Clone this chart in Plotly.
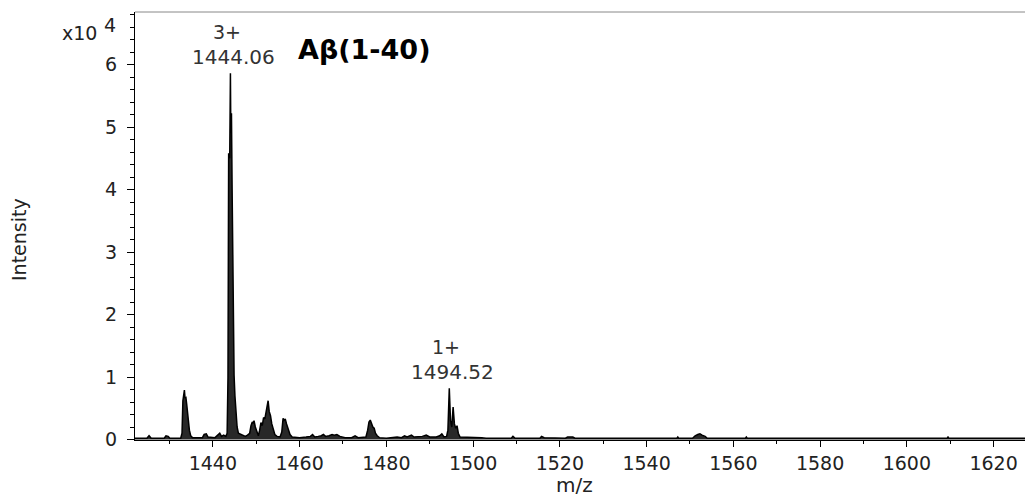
import plotly.graph_objects as go

# Profile spectrum of A-beta(1-40): m/z and intensity (x10^4 counts)
mz = [
    1422.0, 1424.8, 1425.3, 1425.8, 1428.8, 1429.2, 1429.7, 1430.1,
    1432.6, 1432.9, 1433.1, 1433.3, 1433.45, 1433.6, 1433.8, 1434.0,
    1434.3, 1434.6, 1434.9, 1435.3, 1437.6, 1438.0, 1438.5, 1438.9,
    1440.5, 1441.0, 1441.6, 1442.0, 1442.5, 1443.0, 1443.3, 1443.5,
    1443.65, 1443.9, 1444.06, 1444.15, 1444.3, 1444.45, 1444.65, 1444.9,
    1445.1, 1445.4, 1445.6, 1445.9, 1446.5, 1447.0, 1447.5, 1448.0,
    1448.5, 1448.8, 1449.1, 1449.3, 1449.5, 1449.8, 1450.2, 1450.5,
    1450.8, 1451.1, 1451.4, 1451.7, 1452.0, 1452.3, 1452.6, 1452.75,
    1453.0, 1453.3, 1453.6, 1453.9, 1454.3, 1454.8, 1455.5, 1455.9,
    1456.2, 1456.4, 1456.7, 1457.0, 1457.4, 1457.8, 1458.3, 1460.0,
    1461.5, 1462.5, 1463.0, 1463.5, 1464.3, 1465.0, 1465.5, 1466.0,
    1466.8, 1467.5, 1468.0, 1468.6, 1469.3, 1470.5, 1472.0, 1472.8,
    1473.5, 1474.5, 1475.3, 1475.7, 1476.0, 1476.3, 1476.6, 1476.9,
    1477.2, 1477.5, 1477.9, 1478.4, 1480.0, 1481.5, 1482.5, 1483.5,
    1484.2, 1484.8, 1485.8, 1486.4, 1487.5, 1488.3, 1489.2, 1490.0,
    1491.5, 1492.3, 1492.8, 1493.3, 1493.9, 1494.2, 1494.52, 1494.8,
    1495.1, 1495.4, 1495.7, 1496.0, 1496.3, 1496.6, 1497.0, 1498.0,
    1499.0, 1500.5, 1502.0, 1503.0, 1508.8, 1509.2, 1509.7, 1515.4,
    1515.8, 1516.4, 1521.3, 1521.8, 1523.0, 1523.5, 1547.0, 1547.2,
    1547.4, 1550.6, 1551.2, 1551.8, 1552.3, 1552.8, 1553.5, 1554.0,
    1562.8, 1563.0, 1563.2, 1609.3, 1609.5, 1609.7, 1627.3,
]
intensity_e4 = [
    0.02, 0.02, 0.06, 0.02, 0.02, 0.06, 0.05, 0.02,
    0.02, 0.10, 0.62, 0.70, 0.79, 0.66, 0.67, 0.55,
    0.30, 0.15, 0.06, 0.03, 0.03, 0.08, 0.09, 0.04,
    0.03, 0.06, 0.10, 0.05, 0.07, 0.05, 0.10, 1.00,
    4.58, 4.50, 5.86, 4.90, 5.22, 4.00, 2.00, 1.03,
    0.70, 0.45, 0.20, 0.10, 0.08, 0.06, 0.05, 0.07,
    0.10, 0.22, 0.28, 0.26, 0.30, 0.20, 0.10, 0.06,
    0.15, 0.27, 0.22, 0.35, 0.33, 0.48, 0.55, 0.62,
    0.45, 0.38, 0.25, 0.18, 0.08, 0.05, 0.04, 0.12,
    0.34, 0.30, 0.33, 0.25, 0.18, 0.08, 0.04, 0.03,
    0.04, 0.05, 0.08, 0.04, 0.05, 0.06, 0.08, 0.05,
    0.06, 0.08, 0.07, 0.08, 0.05, 0.03, 0.03, 0.06,
    0.03, 0.03, 0.04, 0.15, 0.28, 0.31, 0.25, 0.20,
    0.18, 0.10, 0.06, 0.03, 0.02, 0.03, 0.04, 0.03,
    0.06, 0.04, 0.07, 0.04, 0.04, 0.05, 0.07, 0.04,
    0.04, 0.06, 0.09, 0.04, 0.05, 0.15, 0.82, 0.30,
    0.20, 0.52, 0.25, 0.18, 0.22, 0.10, 0.04, 0.04,
    0.03, 0.04, 0.03, 0.02, 0.02, 0.05, 0.02, 0.02,
    0.05, 0.03, 0.02, 0.04, 0.04, 0.02, 0.02, 0.04,
    0.02, 0.02, 0.06, 0.08, 0.09, 0.07, 0.05, 0.02,
    0.02, 0.04, 0.02, 0.02, 0.04, 0.02, 0.02,
]
intensity = [v * 1e4 for v in intensity_e4]

# Labelled peaks: charge state and m/z
peak_charge = ["3+", "1+"]
peak_mz = [1444.06, 1494.52]

x_ticks = [1440, 1460, 1480, 1500, 1520, 1540, 1560, 1580, 1600, 1620]
y_ticks = [0, 10000, 20000, 30000, 40000, 50000, 60000]
y_ticklabels = ["0", "1", "2", "3", "4", "5", "6"]

FONT = "DejaVu Sans"
TXT = "#222222"
LBL = "#333333"

fig = go.Figure()
fig.add_trace(go.Scatter(
    x=mz, y=intensity, mode="lines",
    line=dict(color="black", width=1.5),
    fill="tozeroy", fillcolor="rgb(40,40,40)",
    hoverinfo="x+y", showlegend=False,
))

# Peak annotations: m/z value just above the peak, charge state above that
for ch, m in zip(peak_charge, peak_mz):
    top = max(v for x, v in zip(mz, intensity) if abs(x - m) < 0.01)
    fig.add_annotation(
        x=m, y=top, xref="x", yref="y", text=f"{m:.2f}", showarrow=False,
        xanchor="center", yanchor="middle", yshift=16, xshift=3.5,
        font=dict(family=FONT, size=20, color=LBL),
    )
    fig.add_annotation(
        x=m, y=top, xref="x", yref="y", text=ch, showarrow=False,
        xanchor="center", yanchor="middle", yshift=41, xshift=-3.5,
        font=dict(family=FONT, size=19, color=LBL),
    )

fig.add_annotation(
    x=(296 - 135) / 890, y=(440 - 50) / 428, xref="paper", yref="paper",
    text="<b>Aβ(1-40)</b>", showarrow=False,
    xanchor="left", yanchor="middle",
    font=dict(family=FONT, size=27, color="black"),
)

fig.update_layout(
    width=1025, height=497,
    margin=dict(l=135, r=0, t=12, b=57),
    paper_bgcolor="white", plot_bgcolor="white",
    font=dict(family=FONT, size=19, color=TXT),
    xaxis=dict(
        range=[1422.06, 1627.25], tickmode="array", tickvals=x_ticks,
        ticks="outside", ticklen=6, tickcolor="black", tickwidth=1,
        showline=True, linecolor="black", linewidth=1,
        showgrid=False, zeroline=False,
        tickfont=dict(family=FONT, size=19, color=TXT),
        minor=dict(dtick=10, tick0=1420, ticks="outside", ticklen=3,
                   tickcolor="black", showgrid=False),
    ),
    yaxis=dict(
        range=[-80, 68400], tickmode="array", tickvals=y_ticks,
        ticktext=y_ticklabels,
        ticks="outside", ticklen=7, tickcolor="black", tickwidth=1,
        ticklabelstandoff=6,
        showline=True, linecolor="black", linewidth=1,
        showgrid=False, zeroline=False,
        tickfont=dict(family=FONT, size=19, color=TXT),
        minor=dict(dtick=2000, tick0=0, ticks="outside", ticklen=4,
                   tickcolor="black", showgrid=False),
    ),
)

# Axis titles
fig.add_annotation(x=(574 - 135) / 890, y=(440 - 485) / 428,
                   xref="paper", yref="paper", text="m/z", showarrow=False,
                   xanchor="center", yanchor="middle",
                   font=dict(family=FONT, size=20, color=TXT))
fig.add_annotation(x=(19 - 135) / 890, y=(440 - 240) / 428,
                   xref="paper", yref="paper", text="Intensity",
                   showarrow=False, textangle=-90,
                   xanchor="center", yanchor="middle",
                   font=dict(family=FONT, size=19, color=TXT))

# Thin frame line along the top of the plot area
fig.add_shape(type="line", xref="paper", yref="paper", x0=0, x1=1, y0=1, y1=1,
              line=dict(color="#888888", width=1))

# Axis multiplier label
fig.add_annotation(x=(99 - 135) / 890, y=(440 - 33) / 428,
                   xref="paper", yref="paper", text="x10",
                   showarrow=False, xanchor="right", yanchor="middle",
                   font=dict(family=FONT, size=19, color=TXT))
fig.add_annotation(x=(102 - 135) / 890, y=(440 - 25) / 428,
                   xref="paper", yref="paper", text="4",
                   showarrow=False, xanchor="left", yanchor="middle",
                   font=dict(family=FONT, size=19, color=TXT))

fig.write_html("out.html")
